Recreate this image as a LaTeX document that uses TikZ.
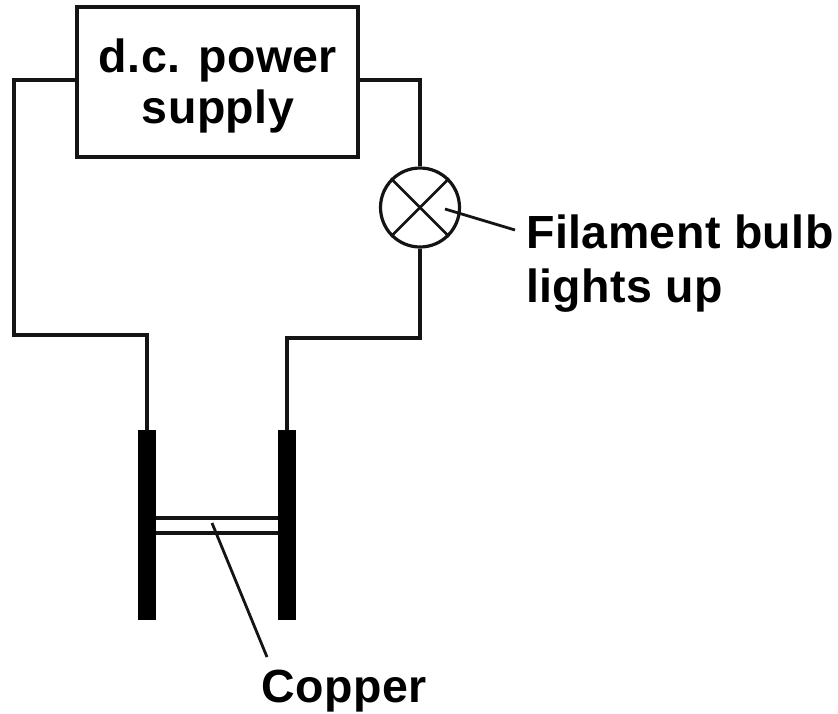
\documentclass[tikz,border=0pt]{standalone}
\usepackage{fontspec}
\setmainfont{Liberation Sans}[BoldFeatures={LetterSpace=1}]
\begin{document}
\begin{tikzpicture}[x=1pt,y=-1pt,
  wire/.style={line width=3.1pt,line cap=butt,line join=miter,black!92},
  thin wire/.style={line width=2.8pt,black!92},
  lab/.style={font=\bfseries\fontsize{46.5}{54}\selectfont,align=center,text=black,inner sep=0pt},
  electrode/.style={fill=black,draw=none,minimum width=18pt,minimum height=190pt,inner sep=0pt}]
\useasboundingbox (0,0) rectangle (838,713);
\node[draw,line width=3.2pt,black!92,minimum width=281pt,minimum height=150pt,inner sep=0pt] (psu) at (217.5,82) {};
\node[lab] (psutext) at (218,85.5) {d.c. power\\[-3pt]supply};
\node[circle,draw,line width=3.2pt,black!92,minimum size=79pt,inner sep=0pt] (bulb) at (420,207.5) {};
\draw[thin wire] (bulb.north west) -- (bulb.south east);
\draw[thin wire] (bulb.north east) -- (bulb.south west);
\node[electrode] (l) at (147,525) {};
\node[electrode] (r) at (287,525) {};
\coordinate (lc) at (14,335);
\coordinate (rc) at (420,338);
\draw[wire] (psu.west |- 0,80) -| (lc) -- (147,335) -- (l.north);
\draw[wire] (psu.east |- 0,80) -| (bulb.north);
\draw[wire] (bulb.south) -- (rc) -- (287,338) -- (r.north);
\draw[wire] (l.east |- 0,518) -- (r.west |- 0,518);
\draw[wire] (l.east |- 0,533) -- (r.west |- 0,533);
\node[lab,align=left,anchor=west] (filament) at (526,263.5) {Filament bulb\\lights up};
\draw[thin wire] (445,209) -- (515,230);
\node[lab] (copper) at (344,691) {Copper};
\draw[thin wire] (212,523) -- (267,657);
\end{tikzpicture}
\end{document}
